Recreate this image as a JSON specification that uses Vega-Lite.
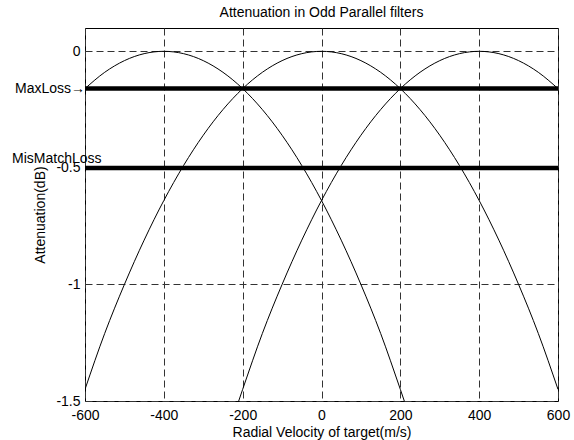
{
  "$schema": "https://vega.github.io/schema/vega-lite/v6.json",
  "width": 473,
  "height": 373,
  "autosize": "none",
  "padding": {"left": 85, "top": 28, "right": 16, "bottom": 39},
  "background": "white",
  "title": {"text": "Attenuation in Odd Parallel filters", "fontSize": 14, "font": "Liberation Sans", "fontWeight": "normal", "color": "black", "offset": 8},
  "config": {
    "view": {"stroke": "black", "strokeWidth": 1},
    "font": "Liberation Sans",
    "text": {"font": "Liberation Sans", "fontSize": 14, "color": "black"}
  },
  "datasets": {
    "curves": [
      {"center": -400, "v": -600, "att": -0.16}, {"center": -400, "v": -550, "att": -0.09}, {"center": -400, "v": -500, "att": -0.04}, {"center": -400, "v": -450, "att": -0.01}, {"center": -400, "v": -400, "att": 0},
      {"center": -400, "v": -350, "att": -0.01}, {"center": -400, "v": -300, "att": -0.04}, {"center": -400, "v": -250, "att": -0.09}, {"center": -400, "v": -200, "att": -0.16}, {"center": -400, "v": -150, "att": -0.25},
      {"center": -400, "v": -100, "att": -0.36}, {"center": -400, "v": -50, "att": -0.49}, {"center": -400, "v": 0, "att": -0.64}, {"center": -400, "v": 50, "att": -0.81}, {"center": -400, "v": 100, "att": -1.0},
      {"center": -400, "v": 150, "att": -1.21}, {"center": -400, "v": 200, "att": -1.45}, {"center": -400, "v": 250, "att": -1.7},
      {"center": 0, "v": -600, "att": -1.45}, {"center": 0, "v": -550, "att": -1.21}, {"center": 0, "v": -500, "att": -1.0}, {"center": 0, "v": -450, "att": -0.81}, {"center": 0, "v": -400, "att": -0.64},
      {"center": 0, "v": -350, "att": -0.49}, {"center": 0, "v": -300, "att": -0.36}, {"center": 0, "v": -250, "att": -0.25}, {"center": 0, "v": -200, "att": -0.16}, {"center": 0, "v": -150, "att": -0.09},
      {"center": 0, "v": -100, "att": -0.04}, {"center": 0, "v": -50, "att": -0.01}, {"center": 0, "v": 0, "att": 0}, {"center": 0, "v": 50, "att": -0.01}, {"center": 0, "v": 100, "att": -0.04},
      {"center": 0, "v": 150, "att": -0.09}, {"center": 0, "v": 200, "att": -0.16}, {"center": 0, "v": 250, "att": -0.25}, {"center": 0, "v": 300, "att": -0.36}, {"center": 0, "v": 350, "att": -0.49},
      {"center": 0, "v": 400, "att": -0.64}, {"center": 0, "v": 450, "att": -0.81}, {"center": 0, "v": 500, "att": -1.0}, {"center": 0, "v": 550, "att": -1.21}, {"center": 0, "v": 600, "att": -1.45},
      {"center": 400, "v": -250, "att": -1.7}, {"center": 400, "v": -200, "att": -1.45}, {"center": 400, "v": -150, "att": -1.21}, {"center": 400, "v": -100, "att": -1.0}, {"center": 400, "v": -50, "att": -0.81},
      {"center": 400, "v": 0, "att": -0.64}, {"center": 400, "v": 50, "att": -0.49}, {"center": 400, "v": 100, "att": -0.36}, {"center": 400, "v": 150, "att": -0.25}, {"center": 400, "v": 200, "att": -0.16},
      {"center": 400, "v": 250, "att": -0.09}, {"center": 400, "v": 300, "att": -0.04}, {"center": 400, "v": 350, "att": -0.01}, {"center": 400, "v": 400, "att": 0}, {"center": 400, "v": 450, "att": -0.01},
      {"center": 400, "v": 500, "att": -0.04}, {"center": 400, "v": 550, "att": -0.09}, {"center": 400, "v": 600, "att": -0.16}
    ],
    "losses": [
      {"name": "MaxLoss", "att": -0.16},
      {"name": "MisMatchLoss", "att": -0.5}
    ],
    "maxlabel": [{"label": "MaxLoss→", "v": -600, "att": -0.16}],
    "mismatchlabel": [{"label": "MisMatchLoss", "v": -785, "att": -0.477}]
  },
  "layer": [
    {
      "data": {"name": "curves"},
      "mark": {"type": "line", "color": "black", "strokeWidth": 1, "interpolate": "monotone", "clip": true},
      "encoding": {
        "x": {"field": "v", "type": "quantitative", "scale": {"domain": [-600, 600], "nice": false, "zero": false},
          "axis": {"title": "Radial Velocity of target(m/s)", "values": [-600, -400, -200, 0, 200, 400, 600], "labelExpr": "toString(datum.value)",
            "grid": true, "gridDash": [7, 4], "gridColor": "#333333", "gridWidth": 1, "ticks": false, "domain": false,
            "labelPadding": 7, "labelFontSize": 14, "labelColor": "black", "labelFont": "Liberation Sans", "labelFlush": false, "labelOverlap": false,
            "titleFontSize": 14, "titleFontWeight": "normal", "titleColor": "black", "titleFont": "Liberation Sans", "titlePadding": 3}},
        "y": {"field": "att", "type": "quantitative", "scale": {"domain": [-1.5, 0.1], "nice": false, "zero": false},
          "axis": {"title": "Attenuation(dB)", "values": [-1.5, -1, -0.5, 0], "labelExpr": "toString(datum.value)",
            "grid": true, "gridDash": [7, 4], "gridColor": "#333333", "gridWidth": 1, "ticks": false, "domain": false,
            "labelPadding": 5, "labelFontSize": 14, "labelColor": "black", "labelFont": "Liberation Sans", "labelFlush": false, "labelOverlap": false,
            "titleFontSize": 14, "titleFontWeight": "normal", "titleColor": "black", "titleFont": "Liberation Sans", "titleX": -38, "titleY": 186.5}},
        "detail": {"field": "center", "type": "nominal"}
      }
    },
    {
      "data": {"name": "losses"},
      "mark": {"type": "rule", "color": "black", "strokeWidth": 4.5},
      "encoding": {
        "y": {"field": "att", "type": "quantitative", "title": "Attenuation(dB)"}
      }
    },
    {
      "data": {"name": "maxlabel"},
      "mark": {"type": "text", "align": "right", "baseline": "middle", "fontSize": 14, "font": "Liberation Sans", "color": "black"},
      "encoding": {
        "x": {"field": "v", "type": "quantitative", "title": "Radial Velocity of target(m/s)"},
        "y": {"field": "att", "type": "quantitative", "title": "Attenuation(dB)"},
        "text": {"field": "label"}
      }
    },
    {
      "data": {"name": "mismatchlabel"},
      "mark": {"type": "text", "align": "left", "baseline": "alphabetic", "fontSize": 14, "font": "Liberation Sans", "color": "black"},
      "encoding": {
        "x": {"field": "v", "type": "quantitative", "title": "Radial Velocity of target(m/s)"},
        "y": {"field": "att", "type": "quantitative", "title": "Attenuation(dB)"},
        "text": {"field": "label"}
      }
    }
  ]
}
